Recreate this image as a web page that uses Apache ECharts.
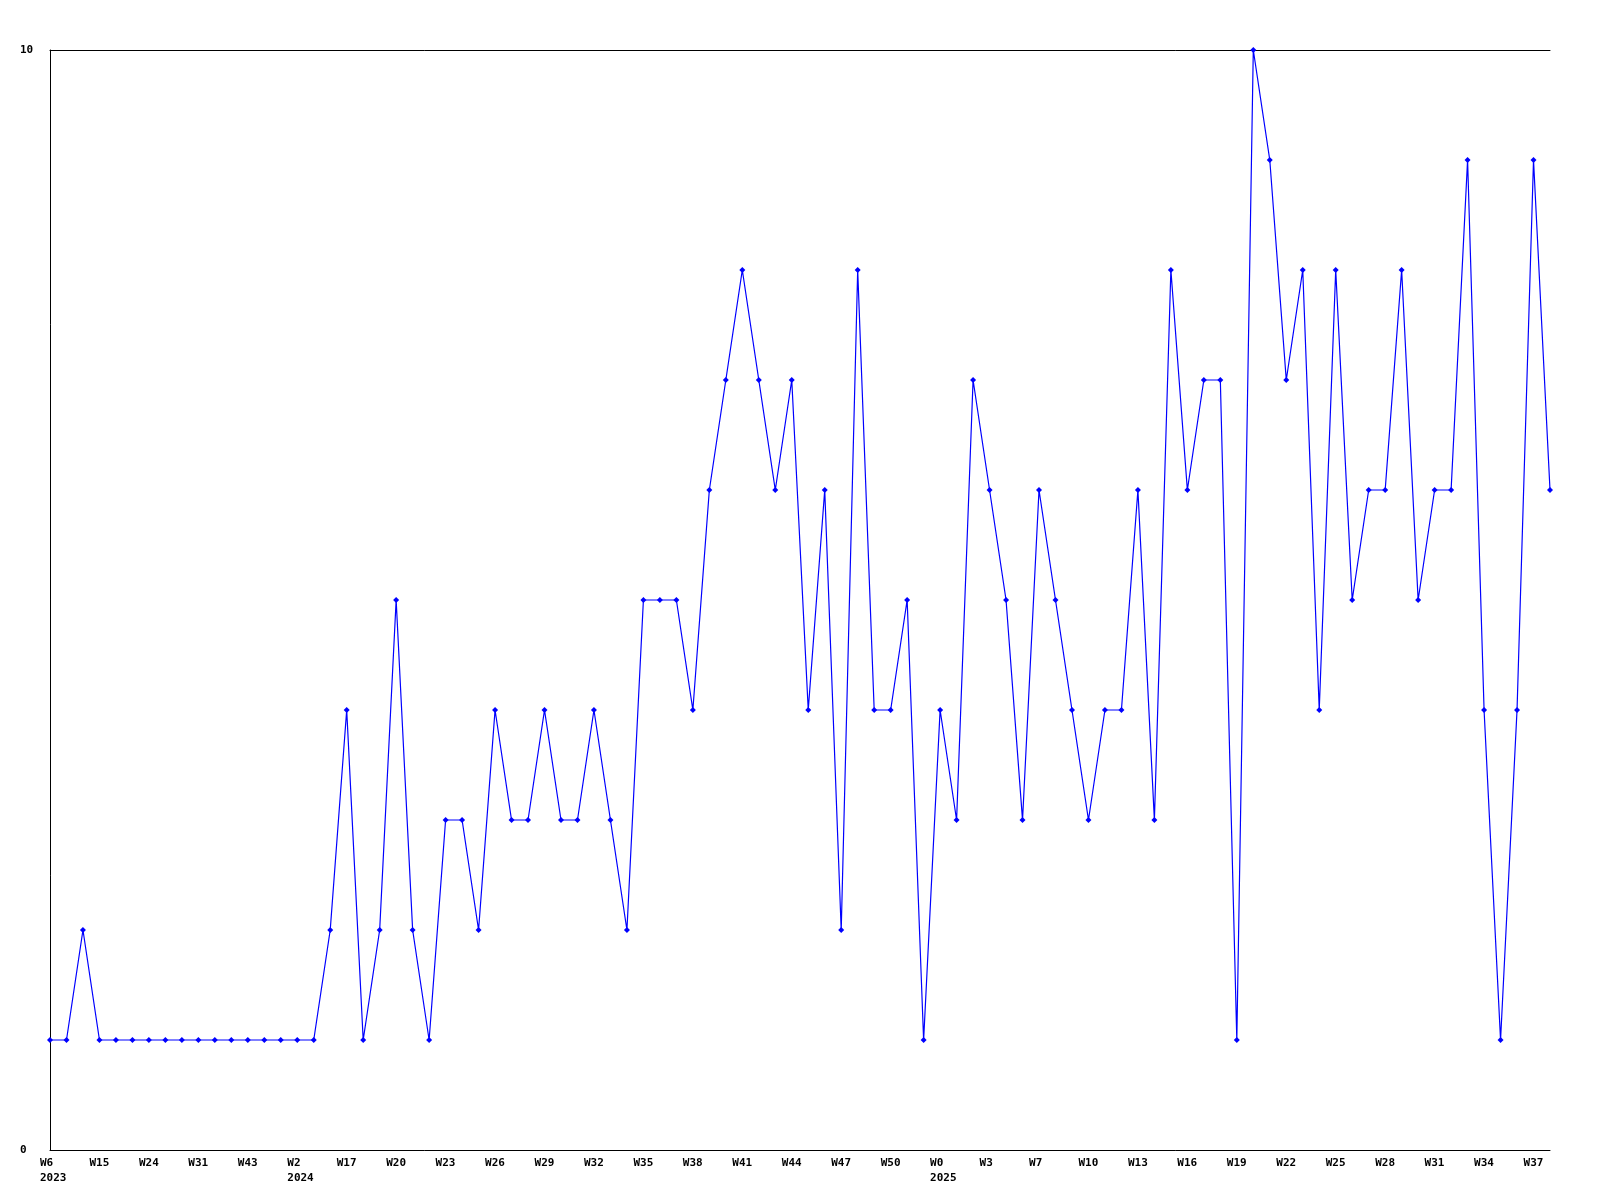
<!DOCTYPE html>
<html>
<head>
<meta charset="utf-8">
<script src="https://cdn.jsdelivr.net/npm/echarts@6/dist/echarts.min.js"></script>
<style>html,body{margin:0;padding:0;background:#fff}#c{width:1600px;height:1200px}</style>
</head>
<body>
<div id="c"></div>
<script>
const categories = [
  "W6\n2023","W8","W11","W15","W18","W21","W24","W26","W28","W31","W35","W39","W43","W47","W51",
  "W2\n2024","W7","W12","W17","W18","W19","W20","W21","W22","W23","W24","W25","W26","W27","W28",
  "W29","W30","W31","W32","W33","W34","W35","W36","W37","W38","W39","W40","W41","W42","W43",
  "W44","W45","W46","W47","W48","W49","W50","W51","W52","W0\n2025","W1","W2","W3","W4","W6",
  "W7","W8","W9","W10","W11","W12","W13","W14","W15","W16","W17","W18","W19","W20","W21",
  "W22","W23","W24","W25","W26","W27","W28","W29","W30","W31","W32","W33","W34","W35","W36",
  "W37","W38"
];
const values = [
  1,1,2,1,1,1,1,1,1,1,1,1,1,1,1,
  1,1,2,4,1,2,5,2,1,3,3,2,4,3,3,
  4,3,3,4,3,2,5,5,5,4,6,7,8,7,6,
  7,4,6,2,8,4,4,5,1,4,3,7,6,5,3,
  6,5,4,3,4,4,6,3,8,6,7,7,1,10,9,
  7,8,4,8,5,6,6,8,5,6,6,9,4,1,4,
  9,6
];
const yTicks = [0, 10];

const font = { fontFamily: 'DejaVu Sans Mono', fontWeight: 'bold', fontSize: 11, color: '#000' };
const chart = echarts.init(document.getElementById('c'), null, { renderer: 'canvas' });
chart.setOption({
  animation: false,
  backgroundColor: '#fff',
  grid: { left: 50, right: 50, top: 50, bottom: 50, containLabel: false },
  xAxis: [{
    type: 'category',
    data: categories,
    boundaryGap: false,
    axisLine: { show: true, lineStyle: { color: '#000', width: 1 } },
    axisTick: { show: false },
    splitLine: { show: false },
    axisLabel: Object.assign({ interval: 2, align: 'left', margin: 6, lineHeight: 15, padding: [0, 0, 0, -10] }, font)
  }, {
    type: 'category',
    position: 'top',
    data: categories,
    boundaryGap: false,
    axisLine: { show: true, lineStyle: { color: '#000', width: 1 } },
    axisTick: { show: false },
    axisLabel: { show: false },
    splitLine: { show: false }
  }],
  yAxis: {
    type: 'value',
    min: yTicks[0],
    max: yTicks[1],
    interval: yTicks[1] - yTicks[0],
    axisLine: { show: true, lineStyle: { color: '#000', width: 1 } },
    axisTick: { show: false },
    splitLine: { show: false },
    axisLabel: Object.assign({ align: 'left', margin: 30 }, font)
  },
  series: [{
    type: 'line',
    data: values,
    symbol: 'diamond',
    symbolSize: 6,
    showAllSymbol: true,
    lineStyle: { color: '#0000ff', width: 1.2 },
    itemStyle: { color: '#0000ff' }
  }]
});
</script>
</body>
</html>
